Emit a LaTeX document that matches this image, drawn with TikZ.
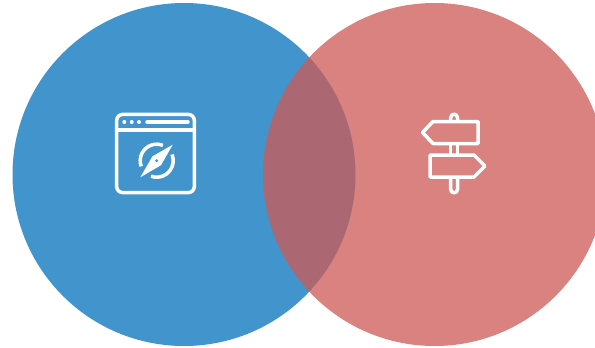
\documentclass[tikz,border=0pt]{standalone}
\usepackage{xcolor}
\definecolor{vennblue}{RGB}{66,148,204}
\definecolor{vennred}{RGB}{205,91,88}
\usepackage{tikz}
\usetikzlibrary{
  positioning
}
\begin{document}
\begin{tikzpicture}[
  x=1pt, y=-1pt,
  lobe/.style={
    circle, minimum size=343pt, inner sep=0pt
  },
  icon/.style={draw=white, line width=3.5pt, line join=round, line cap=round},
]
\useasboundingbox (0,0) rectangle (595,348);
\clip (0,0) rectangle (595,348);

% The two overlapping discs
\node[lobe, fill=vennblue] (lobeL) at (184,174.5) {};
\node[lobe, fill=vennred, fill opacity=0.76] (lobeR) at (434.5,174.5) {};

% Browser window with compass
\draw[icon, rounded corners=6pt] (116.7,114.4) rectangle (194.3,192.6);
\draw[icon] (116.7,130) -- (194.3,130);
\foreach \x in {124.3,131.7,139}
  \fill[white] (\x,122) circle (2);
\draw[icon] (147,122) -- (188,122);
\def\R{16.5}
\draw[icon, line cap=butt] ([shift={(156.7,160.7)}] 160:\R) arc (160:292:\R);
\draw[icon, line cap=butt] ([shift={(156.7,160.7)}] -22:\R) arc (-22:110:\R);
\fill[white, even odd rule] (172.7,144.7) -- (161,165.2) -- (140.3,177.3) -- (152.4,156.4) -- cycle
  (156.7,160.7) circle (1.8);

% Signpost
\draw[icon] (450.7,120) -- (450.7,117.6) arc (180:360:3.4) -- (457.5,120);
\draw[icon] (450.7,145) -- (450.7,155) (457.5,145) -- (457.5,155);
\draw[icon] (450.7,178) -- (450.7,189.4) arc (180:0:3.4) -- (457.5,178);
\draw[icon] (478,121.5) -- (433,121.5) -- (422.5,132.5) -- (433,143.5) -- (478,143.5) -- cycle;
\draw[icon] (430,155) -- (474,155) -- (485,166) -- (474,177) -- (430,177) -- cycle;

\end{tikzpicture}
\end{document}
